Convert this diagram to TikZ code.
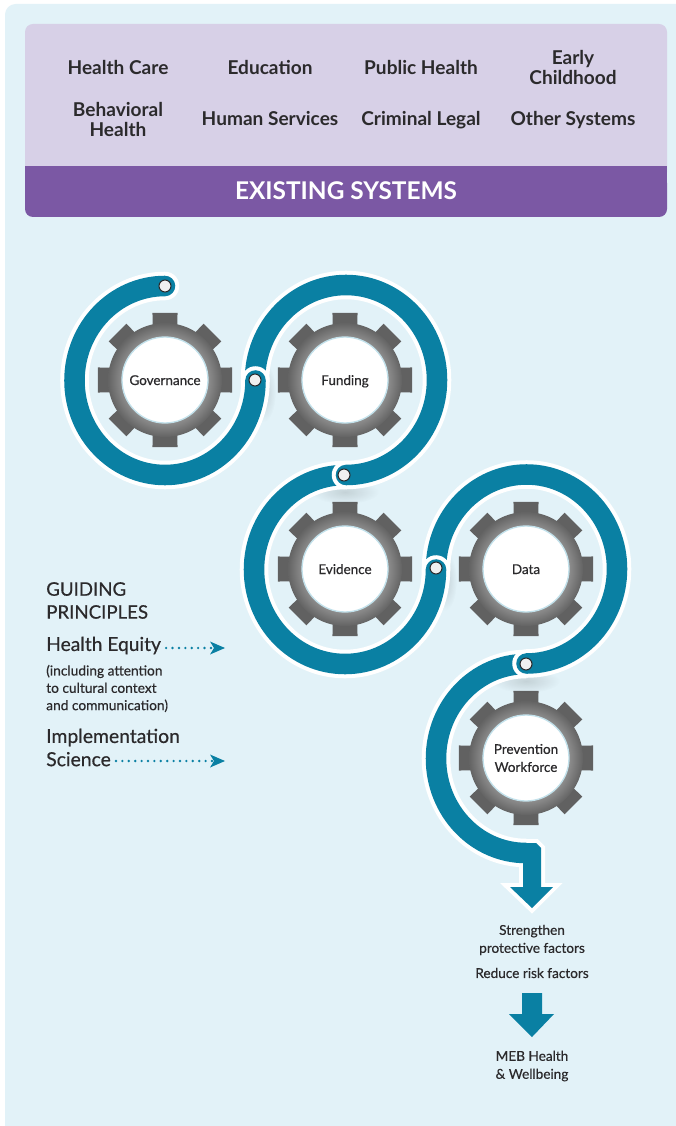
\documentclass[tikz,border=0pt]{standalone}
\usepackage{fontspec}
\setmainfont{Lato}
\newfontfamily\medfont[FakeBold=0.5]{Lato}
\usetikzlibrary{arrows.meta,calc,fadings}
\definecolor{panelbg}{HTML}{E2F2F8}
\definecolor{lav}{HTML}{D7D0E7}
\definecolor{purp}{HTML}{7B58A4}
\definecolor{tealr}{HTML}{0A80A3}
\definecolor{ink}{HTML}{2B2A2C}
\pgfdeclareradialshading{gearshade}{\pgfpoint{0bp}{0bp}}{color(0bp)=(black!45);color(19bp)=(black!45);color(25bp)=(black!61);color(100bp)=(black!61)}
\newcommand{\fpx}[2]{\fontsize{#1pt}{#2pt}\selectfont}
\newcommand{\cent}[2]{\raisebox{0pt}[#1pt][0pt]{#2}}
\newcommand{\gearat}[2]{%
  \foreach \a in {0,45,...,315}{
    \fill[black!62] ($(#1,#2)+(\a+14:50)$) -- ($(#1,#2)+(\a-14:50)$) -- ($(#1,#2)+(\a-10.6:68.2)$) -- ($(#1,#2)+(\a+10.6:68.2)$) -- cycle;
  }
  \shade[shading=gearshade] (#1,#2) circle (57);
}
\newcommand{\softshadow}[4]{\fill[black,opacity=0.13,path fading=softedge] (#1,#2) ellipse [x radius=#3,y radius=#4];}
\tikzfading[name=softedge,inner color=transparent!0,outer color=transparent!100]
\tikzset{
  x=0.75pt,y=-0.75pt,
  ribbon/.style={draw=white,line width=3pt,double=tealr,double distance=15.4pt,line cap=round},
  hub/.style={circle,minimum size=64.5pt,inner sep=0pt,fill=white,draw=panelbg!85!tealr,line width=1pt,text=ink,align=center,font=\medfont\fpx{10.1}{13.5}},
  toplabel/.style={text=ink,align=center,inner sep=0pt,font=\bfseries\fpx{14.3}{14.6}},
  leftlabel/.style={text=ink,align=left,anchor=west,inner sep=0pt},
  outcome/.style={text=ink,align=center,inner sep=0pt,font=\medfont\fpx{10.2}{13.5}},
  knob/.style={circle,minimum size=9pt,inner sep=0pt,fill=black!6,draw=ink,line width=0.8pt},
  dotline/.style={draw=tealr,line width=2pt,line cap=round,dash pattern=on 0pt off 4.8pt,-},
  dothead/.style={fill=tealr,draw=none},
}
\begin{document}
\begin{tikzpicture}
\useasboundingbox (0,0) rectangle (675,1126);
\fill[white] (0,0) rectangle (675,1126);
\fill[panelbg,rounded corners=8pt] (5,4) rectangle (690,1140);
% existing systems panel
\fill[lav,rounded corners=6pt] (25,24) rectangle (667,180);
\fill[purp,rounded corners=6pt] (25,175) rectangle (667,217);
\fill[purp] (25,166) rectangle (667,190);
\node[toplabel] (hc) at (118,68) {\cent{10.3}{Health Care}};
\node[toplabel] (ed) at (270,68) {\cent{10.3}{Education}};
\node[toplabel] (ph) at (421,68) {\cent{10.3}{Public Health}};
\node[toplabel] (ec) at (573,67.5) {Early\\Childhood};
\node[toplabel] (bh) at (118,119.5) {Behavioral\\Health};
\node[toplabel] (hs) at (270,119) {\cent{10.3}{Human Services}};
\node[toplabel] (cl) at (421,119) {\cent{10.3}{Criminal Legal}};
\node[toplabel] (os) at (573,119) {\cent{10.3}{Other Systems}};
\node[text=white,inner sep=0pt,font=\bfseries\fpx{18.3}{20}] (es) at (346,191) {EXISTING SYSTEMS};
% gears
\gearat{165}{380}
\gearat{345}{380}
\gearat{345}{569}
\gearat{526}{569}
\gearat{526}{758}
\node[hub] (gov) at (165,380) {\cent{7.5}{Governance}};
\node[hub] (fun) at (345,380) {\cent{7.5}{Funding}};
\node[hub] (evi) at (345,569) {\cent{7.5}{Evidence}};
\node[hub] (dat) at (526,569) {\cent{7.5}{Data}};
\node[hub] (pre) at (526,758) {Prevention\\Workforce};
% soft shadows beside the ribbon
\softshadow{345}{492}{34}{12}
\softshadow{526}{681}{34}{12}
\softshadow{264}{392}{12}{30}
\softshadow{445}{581}{12}{30}
% ribbon, last segment first
\draw[draw=white,line width=6pt,line join=miter] (526,843) -- (536,843) -- (541,848) -- (541,887) -- (553,887) -- (532,908) -- (510,887) -- (523,887) -- (523,863) -- (526,863) -- cycle;
\draw[ribbon,line cap=butt] (526,664) arc[start angle=270,end angle=90,x radius=90,y radius=94.5];
\fill[tealr] (525,843) -- (536,843) -- (541,848) -- (541,887) -- (553,887) -- (532,908) -- (510,887) -- (523,887) -- (523,863) -- (525,863) -- cycle;
\draw[ribbon] (436,569) arc[start angle=180,end angle=450,x radius=90.5,y radius=94.5];
\draw[ribbon] (345,475) arc[start angle=270,end angle=0,x radius=91,y radius=94.5];
\draw[ribbon] (255,380) arc[start angle=180,end angle=450,x radius=91,y radius=95];
\draw[ribbon] (165,286) arc[start angle=270,end angle=0,x radius=90.5,y radius=94.5];
% knobs
\node[knob] (k1) at (165,286) {};
\node[knob] (k2) at (255,380) {};
\node[knob] (k3) at (344,475) {};
\node[knob] (k4) at (436,568) {};
\node[knob] (k5) at (526,664) {};
% guiding principles
\node[leftlabel,font=\medfont\fpx{14}{17.2}] (gp) at (46,600.5) {GUIDING\\PRINCIPLES};
\node[leftlabel,font=\medfont\fpx{14.4}{17}] (he) at (46,645.5) {Health Equity};
\node[leftlabel,font=\medfont\fpx{10.3}{13}] (inc) at (46,688.5) {(including attention\\to cultural context\\and communication)};
\node[leftlabel,font=\medfont\fpx{14.5}{17.4}] (is) at (46,747.5) {Implementation\\Science};
\coordinate (heend) at (212,648);
\coordinate (heTip) at (225,648);
\coordinate (isstart) at (116,761);
\coordinate (isend) at (212,761);
\coordinate (isTip) at (225,761);
\draw[dotline] ($(he.east)+(5,2.5)$) -- (heend);
\draw[dotline] (isstart) -- (isend);
\fill[dothead] (heTip) -- ++(-15,-6.5) -- ++(4,6.5) -- ++(-4,6.5) -- cycle;
\fill[dothead] (isTip) -- ++(-15,-6.5) -- ++(4,6.5) -- ++(-4,6.5) -- cycle;
% outcomes
\node[outcome] (st) at (532,940) {Strengthen\\protective factors};
\node[outcome] (rr) at (532,973) {Reduce risk factors};
\fill[tealr] (522,993) -- (542,993) -- (542,1014) -- (554,1014) -- (532,1037) -- (509,1014) -- (522,1014) -- cycle;
\node[outcome] (meb) at (532,1066) {MEB Health\\\& Wellbeing};
\end{tikzpicture}
\end{document}
